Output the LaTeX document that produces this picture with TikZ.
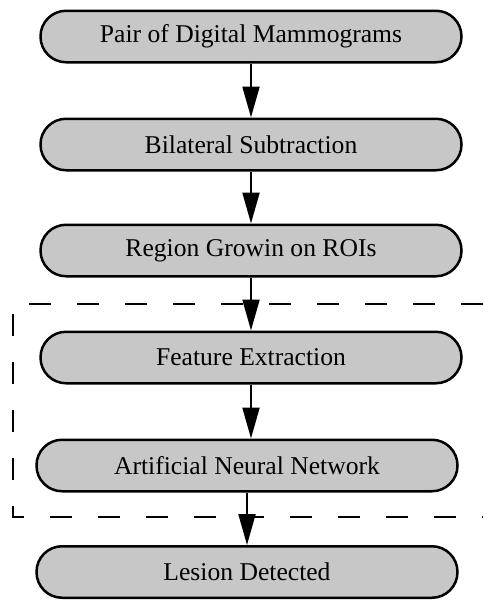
\documentclass[tikz,border=0pt]{standalone}
\usepackage{fontspec}
\setmainfont{Liberation Serif}
\usetikzlibrary{arrows.meta}
\begin{document}
\begin{tikzpicture}[x=.5pt,y=-.5pt,stage/.style={draw,line width=1.25pt,fill=black!22,rounded corners=12.8pt,minimum width=210.5pt,minimum height=25.75pt,inner sep=0pt,font=\fontsize{12.8}{15}\selectfont},flow/.style={line width=1pt,-{Triangle[length=15.5pt,width=8.5pt]}}]
\useasboundingbox(0,0)rectangle(483,601);
\node[stage](pair)at(251,36.5){Pair of Digital Mammograms};\node[stage](sub)at(251,144.5){Bilateral Subtraction};\node[stage](grow)at(251,250.5){Region Growin on ROIs};
\node[stage](feat)at(251,357.5){Feature Extraction};\node[stage](ann)at(247,465.5){Artificial Neural Network};\node[stage](les)at(247,572){Lesion Detected};
\draw[line width=1pt,dash pattern=on 11pt off 13pt](483,304)--(13,304)--(13,517)--(483,517);
\draw[flow](pair)--(sub);\draw[flow](sub)--(grow);\draw[flow](grow)--(grow|-feat.north);\draw[flow](feat)--(feat|-ann.north);\draw[flow](ann)--(les);
\end{tikzpicture}
\end{document}
